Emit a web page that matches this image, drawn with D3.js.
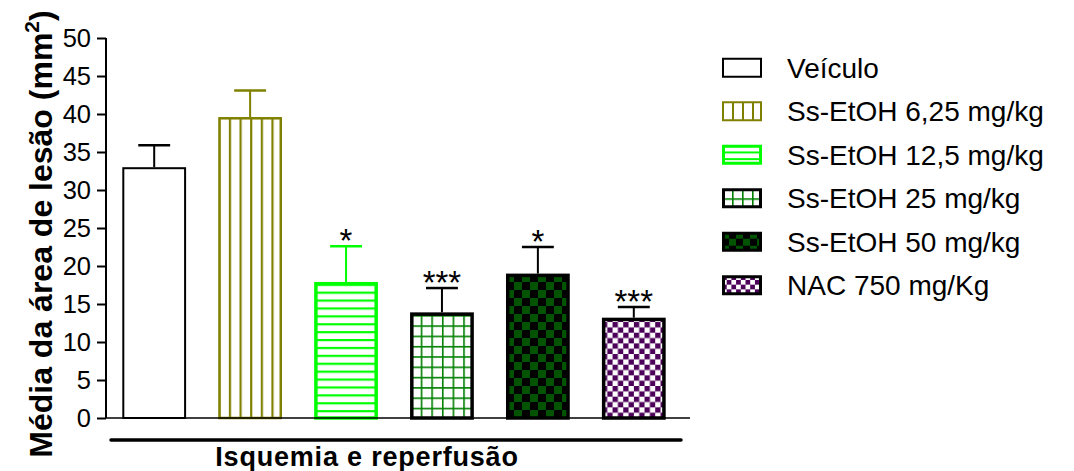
<!DOCTYPE html>
<html>
<head>
<meta charset="utf-8">
<script src="https://cdn.jsdelivr.net/npm/d3@7"></script>
<style>
  html, body { margin: 0; padding: 0; background: #fff; }
  svg { display: block; font-family: "Liberation Sans", Arial, sans-serif; }
</style>
</head>
<body>
<svg id="chart" width="1074" height="471"></svg>
<script>
// Groups and measured lesion areas (mean ± SEM, mm²)
const groups = ["Veículo", "Ss-EtOH 6,25 mg/kg", "Ss-EtOH 12,5 mg/kg", "Ss-EtOH 25 mg/kg", "Ss-EtOH 50 mg/kg", "NAC 750 mg/Kg"];
const means = [33.0, 39.6, 17.9, 13.9, 19.0, 13.2];
const sems = [2.9, 3.5, 4.7, 3.2, 3.5, 1.4];
const significance = ["", "", "*", "***", "*", "***"];
const yTicks = [0, 5, 10, 15, 20, 25, 30, 35, 40, 45, 50];
const xGroupLabel = "Isquemia e reperfusão";

// Fill styles per group
const styles = [
  { kind: "plain", stroke: "#000", line: null, c1: "#fff", c2: null, err: "#000", sw: 2 },
  { kind: "vlines", stroke: "#808000", line: "#808000", c1: "#fff", err: "#808000", sw: 2.5 },
  { kind: "hlines", stroke: "#00ff00", line: "#00ff00", c1: "#fff", err: "#00ff00", sw: 3.5 },
  { kind: "grid", stroke: "#000", line: "#008000", c1: "#fff", err: "#000", sw: 3.5 },
  { kind: "checker", stroke: "#000", c1: "#000", c2: "#005300", err: "#000", sw: 3.5 },
  { kind: "checker", stroke: "#000", c1: "#fff", c2: "#4d005a", err: "#000", sw: 3.5 }
];

const svg = d3.select("#chart");
const defs = svg.append("defs");

const y = d3.scaleLinear().domain([0, 50]).range([418, 38]);
const x = d3.scaleBand().domain(groups).range([106, 682]).paddingInner(0.335).paddingOuter(0.17);

// Builds a pattern anchored at (ox, oy) for a box of width w
function makePattern(id, st, ox, oy, w, h, opts) {
  if (st.kind === "plain") return st.c1;
  let pw, ph;
  if (st.kind === "vlines") { pw = w / opts.cols; ph = 10; }
  else if (st.kind === "hlines") { pw = 10; ph = opts.rowH; }
  else if (st.kind === "grid") { pw = w / opts.cols; ph = opts.rowH; }
  else { pw = opts.cell * 2; ph = opts.cell * 2; }
  const p = defs.append("pattern").attr("id", id)
    .attr("patternUnits", "userSpaceOnUse")
    .attr("x", ox).attr("y", oy).attr("width", pw).attr("height", ph);
  p.append("rect").attr("width", pw).attr("height", ph).attr("fill", st.c1);
  if (st.kind === "vlines" || st.kind === "grid") {
    p.append("rect").attr("x", 0).attr("y", 0).attr("width", opts.lw).attr("height", ph).attr("fill", st.line);
  }
  if (st.kind === "hlines" || st.kind === "grid") {
    p.append("rect").attr("x", 0).attr("y", 0).attr("width", pw).attr("height", opts.lw).attr("fill", st.line);
  }
  if (st.kind === "checker") {
    const c = opts.cell;
    p.append("rect").attr("x", 0).attr("y", 0).attr("width", c).attr("height", c).attr("fill", st.c2);
    p.append("rect").attr("x", c).attr("y", c).attr("width", c).attr("height", c).attr("fill", st.c2);
  }
  return `url(#${id})`;
}

const barOpts = [
  {}, { cols: 6, lw: 2.2 }, { rowH: 7.9, lw: 2.2 }, { cols: 6, rowH: 10.3, lw: 1.6 }, { cell: 8 }, { cell: 5.33 }
];
const legOpts = [
  {}, { cols: 4, lw: 2 }, { rowH: 6.7, lw: 2 }, { cols: 4, rowH: 10, lw: 1.6 }, { cell: 7 }, { cell: 4.7 }
];

// Bars
const bw = x.bandwidth();
groups.forEach((g, i) => {
  const st = styles[i];
  const x0 = x(g), yTop = y(means[i]), yBase = y(0);
  const fill = makePattern("bar" + i, st, x0, yBase, bw, yBase - yTop, barOpts[i]);
  const cx = x0 + bw / 2;
  const yErr = y(means[i] + sems[i]);
  // upper error bar
  svg.append("line").attr("x1", cx).attr("x2", cx).attr("y1", yTop).attr("y2", yErr)
    .attr("stroke", st.err).attr("stroke-width", 2);
  svg.append("line").attr("x1", cx - bw / 4).attr("x2", cx + bw / 4).attr("y1", yErr).attr("y2", yErr)
    .attr("stroke", st.err).attr("stroke-width", 2.5);
  svg.append("rect")
    .attr("x", x0 + st.sw / 2).attr("y", yTop + st.sw / 2)
    .attr("width", bw - st.sw).attr("height", yBase - yTop - st.sw / 2)
    .attr("fill", fill).attr("stroke", st.stroke).attr("stroke-width", st.sw);
  if (significance[i]) {
    svg.append("text").attr("x", cx).attr("y", yErr + 6)
      .attr("text-anchor", "middle").attr("font-size", 33).attr("fill", "#000")
      .text(significance[i]);
  }
});

// Y axis
const yAxis = d3.axisLeft(y).tickValues(yTicks).tickSize(9).tickPadding(6).tickFormat(d3.format("d"));
const gy = svg.append("g").attr("transform", "translate(106,0)").call(yAxis);
gy.select(".domain").attr("stroke", "#000").attr("stroke-width", 2).attr("d", `M0,${y(50)}V${y(0)}`);
gy.selectAll(".tick line").attr("stroke", "#000").attr("stroke-width", 2);
gy.selectAll(".tick text").attr("font-size", 25.5).attr("fill", "#000")
  .attr("font-family", "'Liberation Sans', Arial, sans-serif");

// X baseline
svg.append("line").attr("x1", 106).attr("x2", 690).attr("y1", y(0)).attr("y2", y(0))
  .attr("stroke", "#000").attr("stroke-width", 1.5);

// Group bracket and label
svg.append("line").attr("x1", 111).attr("x2", 681).attr("y1", 440).attr("y2", 440)
  .attr("stroke", "#000").attr("stroke-width", 3.5).attr("stroke-linecap", "round");
svg.append("text").attr("x", 367).attr("y", 466).attr("text-anchor", "middle")
  .attr("font-size", 27).attr("font-weight", "bold").attr("letter-spacing", 0.8)
  .text(xGroupLabel);

// Y title
const yt = svg.append("text").attr("transform", "translate(52,234) rotate(-90)")
  .attr("text-anchor", "middle").attr("font-size", 32).attr("font-weight", "bold");
yt.append("tspan").text("Média da área de lesão (mm");
yt.append("tspan").attr("font-size", 21).attr("dy", -13).text("2");
yt.append("tspan").attr("dy", 13).text(")");

// Legend
const legY = d3.scaleBand().domain(groups).range([45, 306]).padding(0);
groups.forEach((g, i) => {
  const st = styles[i];
  const cy = legY(g) + legY.bandwidth() / 2 + 1;
  const bx = 722, by = cy - 10, bwl = 40, bh = 20;
  const fill = makePattern("leg" + i, st, bx, by, bwl, bh, legOpts[i]);
  const sw = i === 0 ? 2 : (i === 1 ? 2 : 3);
  svg.append("rect").attr("x", bx + sw / 2).attr("y", by + sw / 2)
    .attr("width", bwl - sw).attr("height", bh - sw)
    .attr("fill", fill).attr("stroke", st.stroke).attr("stroke-width", sw);
  svg.append("text").attr("x", 787).attr("y", cy + 10)
    .attr("font-size", 28).attr("fill", "#000").text(g);
});
</script>
</body>
</html>
